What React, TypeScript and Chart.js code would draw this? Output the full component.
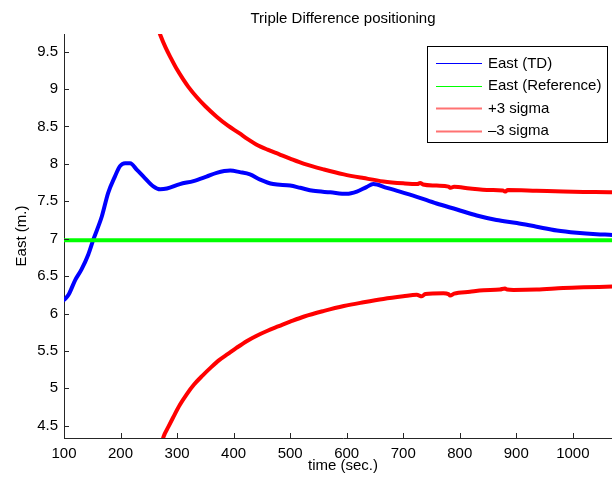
import React, { useEffect, useRef } from "react";
import { Chart, registerables } from "chart.js";

Chart.register(...registerables);

// ---------------- data ----------------
const chartTitle = "Triple Difference positioning";
const xAxisTitle = "time (sec.)";
const yAxisTitle = "East (m.)";

const xTicks = [100, 200, 300, 400, 500, 600, 700, 800, 900, 1000];
const yTicks = [4.5, 5, 5.5, 6, 6.5, 7, 7.5, 8, 8.5, 9, 9.5];

const tdTime = [100, 108, 120, 131, 143, 152, 167, 178, 190, 199, 208, 217, 229, 243, 258, 270, 282, 305, 329, 352, 370, 394, 411, 429, 447, 470, 500, 518, 541, 571, 600, 618, 635, 647, 671, 694, 724, 759, 795, 830, 865, 901, 936, 972, 1007, 1042, 1070, 1090];
const tdEast = [6.18, 6.25, 6.45, 6.59, 6.79, 6.99, 7.3, 7.61, 7.83, 7.97, 8.01, 8.01, 7.92, 7.81, 7.7, 7.66, 7.67, 7.73, 7.77, 7.83, 7.88, 7.91, 7.89, 7.86, 7.79, 7.73, 7.71, 7.68, 7.64, 7.62, 7.6, 7.63, 7.69, 7.73, 7.68, 7.63, 7.56, 7.47, 7.39, 7.31, 7.25, 7.21, 7.16, 7.11, 7.08, 7.06, 7.05, 7.04];

const refTime = [100, 1090];
const refEast = [6.98, 6.98];

const upperTime = [262, 270, 280, 290, 300, 310, 320, 335, 350, 370, 390, 410, 425, 440, 460, 480, 500, 525, 560, 595, 630, 665, 700, 725, 730, 735, 759, 780, 784, 790, 818, 854, 876, 880, 885, 936, 983, 1019, 1070, 1090];
const upperEast = [9.9, 9.73, 9.55, 9.4, 9.26, 9.14, 9.03, 8.89, 8.77, 8.63, 8.51, 8.41, 8.33, 8.26, 8.19, 8.13, 8.07, 8.0, 7.925, 7.86, 7.81, 7.765, 7.74, 7.73, 7.745, 7.725, 7.71, 7.695, 7.68, 7.695, 7.67, 7.65, 7.645, 7.63, 7.65, 7.64, 7.63, 7.625, 7.62, 7.615];

const lowerTime = [268, 276, 285, 293, 305, 317, 330, 345, 360, 375, 390, 405, 423, 440, 460, 480, 500, 525, 560, 595, 630, 665, 700, 724, 733, 739, 771, 780, 783, 790, 818, 842, 871, 880, 884, 895, 936, 983, 1019, 1070, 1090];
const lowerEast = [4.1, 4.35, 4.49, 4.61, 4.78, 4.92, 5.05, 5.17, 5.28, 5.38, 5.46, 5.54, 5.63, 5.7, 5.77, 5.83, 5.89, 5.96, 6.035, 6.1, 6.15, 6.195, 6.23, 6.25, 6.23, 6.26, 6.27, 6.26, 6.24, 6.265, 6.29, 6.31, 6.32, 6.335, 6.32, 6.315, 6.32, 6.34, 6.35, 6.36, 6.365];

const legendLabels = ["East (TD)", "East (Reference)", "+3 sigma", "\u20133 sigma"];
const legendColors = ["#0000ff", "#00ff00", "#ff7272", "#ff7272"];

const X_MIN = 100;
const X_MAX = 1087;
const Y_MIN = 4.336;
const Y_MAX = 9.736;

// ---------------- styling ----------------
const FONT = "'Liberation Sans', Arial, Helvetica, sans-serif";
const AXIS_COLOR = "#262626";

const toPoints = (xs: number[], ys: number[]) => xs.map((x, i) => ({ x, y: ys[i] }));

const decorPlugin = {
  id: "matlabDecor",
  afterDatasetsDraw(chart: any) {
    const ctx: CanvasRenderingContext2D = chart.ctx;
    const { left, bottom } = chart.chartArea;
    const xs = chart.scales.x;
    const ys = chart.scales.y;
    ctx.save();
    // inward tick marks
    ctx.strokeStyle = AXIS_COLOR;
    ctx.lineWidth = 1;
    ctx.beginPath();
    xTicks.forEach((v) => {
      const px = Math.round(xs.getPixelForValue(v)) + 0.5;
      ctx.moveTo(px, bottom);
      ctx.lineTo(px, bottom - 5);
    });
    yTicks.forEach((v) => {
      const py = Math.round(ys.getPixelForValue(v)) + 0.5;
      ctx.moveTo(left, py);
      ctx.lineTo(left + 5, py);
    });
    ctx.stroke();

    // legend box
    const bx = 427.5, by = 46.5, bw = 180, bh = 96;
    ctx.fillStyle = "#ffffff";
    ctx.fillRect(bx, by, bw, bh);
    ctx.strokeStyle = "#000000";
    ctx.lineWidth = 1;
    ctx.strokeRect(bx, by, bw, bh);
    ctx.font = `15px ${FONT}`;
    ctx.textBaseline = "middle";
    ctx.textAlign = "left";
    legendLabels.forEach((label, i) => {
      const cy = 63 + i * 22.5;
      ctx.strokeStyle = legendColors[i];
      ctx.lineWidth = i >= 2 ? 2 : 1.2;
      ctx.beginPath();
      ctx.moveTo(436, Math.round(cy) + 0.5);
      ctx.lineTo(482, Math.round(cy) + 0.5);
      ctx.stroke();
      ctx.fillStyle = "#000000";
      ctx.fillText(label, 488, cy + 0.5);
    });
    ctx.restore();
  },
};

export default function App() {
  const canvasRef = useRef<HTMLCanvasElement | null>(null);

  useEffect(() => {
    if (!canvasRef.current) return;
    Chart.defaults.font.family = FONT;
    const lineCommon = {
      pointRadius: 0,
      borderWidth: 4,
      cubicInterpolationMode: "monotone" as const,
      fill: false,
      clip: 0,
      borderJoinStyle: "round" as const,
      borderCapStyle: "round" as const,
    };
    const chart = new Chart(canvasRef.current, {
      type: "line",
      data: {
        datasets: [
          { ...lineCommon, label: legendLabels[0], data: toPoints(tdTime, tdEast), borderColor: "#0000ff", order: 2 },
          { ...lineCommon, label: legendLabels[1], data: toPoints(refTime, refEast), borderColor: "#00ff00", order: 1 },
          { ...lineCommon, label: legendLabels[2], data: toPoints(upperTime, upperEast), borderColor: "#ff0000", order: 0 },
          { ...lineCommon, label: legendLabels[3], data: toPoints(lowerTime, lowerEast), borderColor: "#ff0000", order: 0 },
        ],
      },
      options: {
        animation: false,
        responsive: false,
        devicePixelRatio: 1,
        layout: { padding: 0 },
        plugins: {
          legend: { display: false },
          tooltip: { enabled: false },
          title: {
            display: true,
            text: chartTitle,
            fullSize: false,
            color: "#000",
            font: { family: FONT, size: 15, weight: "normal", lineHeight: 1.2 },
            padding: { top: 10, bottom: 6 },
          },
        },
        scales: {
          x: {
            type: "linear",
            min: X_MIN,
            max: X_MAX,
            grid: { display: false, drawTicks: false },
            border: { display: true, color: AXIS_COLOR, width: 1 },
            ticks: {
              color: "#000",
              font: { family: FONT, size: 15 },
              padding: 7,
              maxRotation: 0,
              autoSkip: false,
              includeBounds: false,
              callback: (v: any) => String(v),
            },
            afterBuildTicks: (scale: any) => {
              scale.ticks = xTicks.map((v) => ({ value: v }));
            },
            afterFit: (scale: any) => {
              scale.height = 43;
            },
            title: {
              display: true,
              text: xAxisTitle,
              color: "#000",
              font: { family: FONT, size: 15, lineHeight: 1.2 },
              padding: { top: 0, bottom: 6 },
            },
          },
          y: {
            type: "linear",
            min: Y_MIN,
            max: Y_MAX,
            grid: { display: false, drawTicks: false },
            border: { display: true, color: AXIS_COLOR, width: 1 },
            ticks: {
              color: "#000",
              font: { family: FONT, size: 15 },
              padding: 6,
              autoSkip: false,
              includeBounds: false,
              callback: (v: any) => String(v),
            },
            afterBuildTicks: (scale: any) => {
              scale.ticks = yTicks.map((v) => ({ value: v }));
            },
            afterFit: (scale: any) => {
              scale.width = 64;
            },
            title: {
              display: true,
              text: yAxisTitle,
              color: "#000",
              font: { family: FONT, size: 15, lineHeight: 1.2 },
              padding: { top: 13, bottom: 0 },
            },
          },
        },
      },
      plugins: [decorPlugin],
    } as any);
    return () => chart.destroy();
  }, []);

  return (
    <div
      style={{
        position: "fixed",
        left: 0,
        top: 0,
        width: 612,
        height: 481,
        overflow: "hidden",
        background: "#ffffff",
      }}
    >
      <canvas ref={canvasRef} width={622} height={481} style={{ display: "block" }} />
    </div>
  );
}
